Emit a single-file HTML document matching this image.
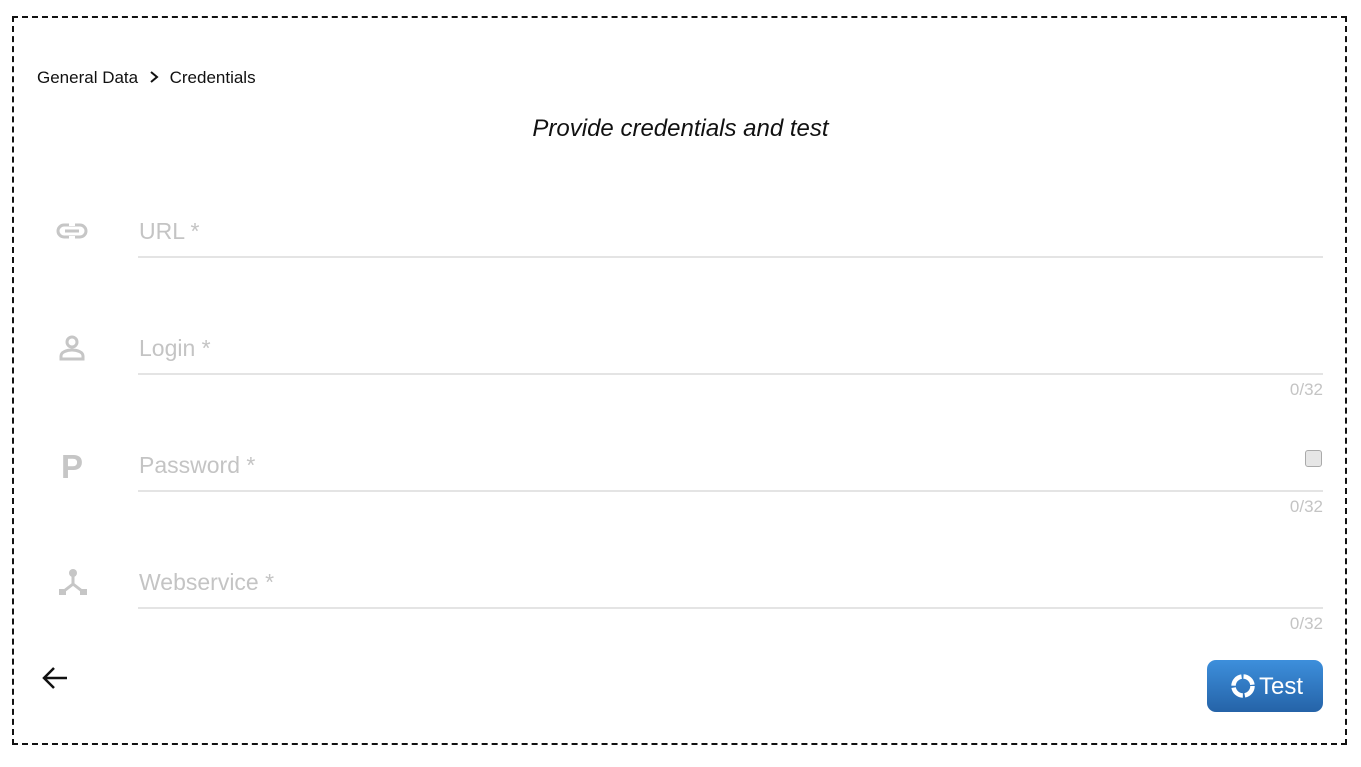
<!DOCTYPE html>
<html><head><meta charset="utf-8"><style>
body{margin:0;width:1361px;height:767px;background:#fff;font-family:"Liberation Sans",Arial,sans-serif;position:relative;overflow:hidden}
.frame{position:absolute;left:12px;top:16px;width:1335px;height:729px;border:2px dashed #111;box-sizing:border-box}
.abs{position:absolute}
.label{position:absolute;left:139px;font-size:23px;color:#c4c4c4}
.line{position:absolute;left:138px;width:1185px;height:2px;background:#e4e4e4}
.cnt{position:absolute;right:38px;font-size:17px;color:#c4c4c4}
</style></head><body>
<div class="frame"></div>
<div class="abs" style="left:37px;top:68px;font-size:17px;color:#111">
<span>General Data</span>
<svg width="18" height="14" style="vertical-align:-1px;margin:0 2px"><path d="M6 2l6 5-6 5" stroke="#111" stroke-width="2" fill="none"/></svg>
<span>Credentials</span></div>
<div class="abs" style="left:0;width:1361px;text-align:center;top:115px;font-size:24px;font-style:italic;color:#111">Provide credentials and test</div>

<svg class="abs" style="left:56px;top:222px" width="32" height="18"><rect x="2" y="3" width="28" height="12" rx="6" fill="none" stroke="#c6c6c6" stroke-width="3"/><rect x="9" y="7.5" width="14" height="3" fill="#c6c6c6"/><rect x="13" y="0" width="6" height="4" fill="#fff"/><rect x="13" y="14" width="6" height="4" fill="#fff"/></svg>
<div class="label" style="top:218px">URL *</div>
<div class="line" style="top:256px"></div>

<svg class="abs" style="left:58px;top:335px" width="28" height="26"><circle cx="14" cy="7" r="5" fill="none" stroke="#c6c6c6" stroke-width="3"/><path d="M3 24v-3c0-4 6-6 11-6s11 2 11 6v3z" fill="none" stroke="#c6c6c6" stroke-width="3"/></svg>
<div class="label" style="top:335px">Login *</div>
<div class="line" style="top:373px"></div>
<div class="cnt" style="top:380px">0/32</div>

<div class="abs" style="left:61px;top:448px;font-size:33px;font-weight:bold;color:#c6c6c6">P</div>
<div class="label" style="top:452px">Password *</div>
<div class="abs" style="left:1305px;top:450px;width:15px;height:15px;border:1px solid #aaa;border-radius:3px;background:#e6e6e6"></div>
<div class="line" style="top:490px"></div>
<div class="cnt" style="top:497px">0/32</div>

<svg class="abs" style="left:58px;top:568px" width="30" height="28"><circle cx="15" cy="5" r="4" fill="#c6c6c6"/><path d="M15 8v8L6 23M15 16l9 7" stroke="#c6c6c6" stroke-width="3" fill="none"/><rect x="1" y="21" width="7" height="6" fill="#c6c6c6"/><rect x="22" y="21" width="7" height="6" fill="#c6c6c6"/></svg>
<div class="label" style="top:569px">Webservice *</div>
<div class="line" style="top:607px"></div>
<div class="cnt" style="top:614px">0/32</div>

<svg class="abs" style="left:40px;top:665px" width="30" height="26"><path d="M27 13H4M14 3L4 13l10 10" stroke="#111" stroke-width="2.5" fill="none"/></svg>
<div class="abs" style="left:1207px;top:660px;width:116px;height:52px;border-radius:9px;background:linear-gradient(#3d8fdc,#2563a8);color:#fff;font-size:24px;box-sizing:border-box;padding:13px 0 0 52px">Test
<svg style="position:absolute;left:23px;top:13px" width="26" height="26"><circle cx="13" cy="13" r="9.5" fill="none" stroke="#fff" stroke-width="4.5" stroke-dasharray="13 2"/></svg></div>
</body></html>
